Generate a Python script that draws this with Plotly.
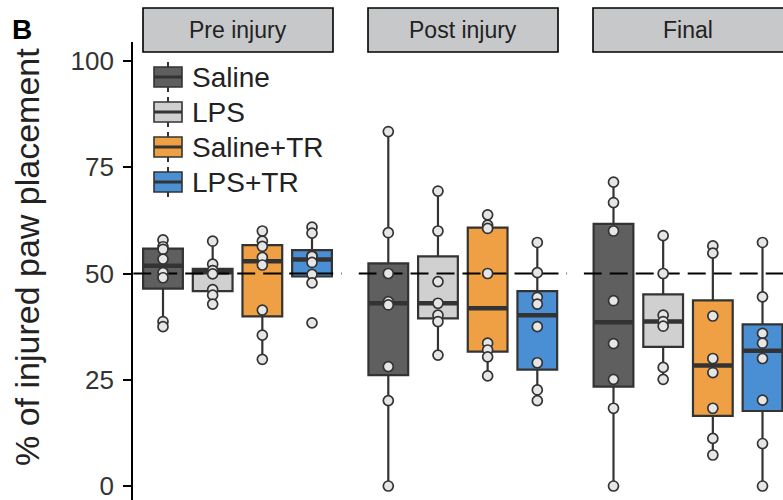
import numpy as np
import plotly.graph_objects as go

# ---- data: % of injured paw placement per mouse ----
phases = ["Pre injury", "Post injury", "Final"]
groups = ["Saline", "LPS", "Saline+TR", "LPS+TR"]

pre_saline = [57.9, 56.3, 55.7, 53.4, 50.2, 49.0, 38.7, 37.5]
pre_lps = [57.6, 52.2, 50.7, 50.7, 49.9, 46.2, 44.9, 42.8]
pre_saline_tr = [60.0, 57.6, 56.4, 53.8, 52.0, 41.4, 35.5, 29.8]
pre_lps_tr = [60.9, 59.5, 54.2, 54.0, 52.6, 49.8, 47.8, 38.4]

post_saline = [83.4, 59.6, 50.0, 43.4, 42.6, 28.1, 20.1, 0.0]
post_lps = [69.4, 60.0, 48.1, 43.0, 40.2, 38.7, 30.8]
post_saline_tr = [63.8, 61.4, 60.6, 50.0, 33.6, 32.0, 30.4, 25.9]
post_lps_tr = [57.3, 50.2, 44.4, 42.8, 37.5, 29.0, 22.6, 20.1]

final_saline = [71.5, 66.7, 60.0, 43.6, 33.5, 25.1, 18.3, 0.0]
final_lps = [58.9, 50.0, 40.2, 38.7, 37.6, 27.9, 25.1]
final_saline_tr = [56.5, 54.8, 40.0, 30.0, 26.7, 18.3, 11.2, 7.3]
final_lps_tr = [57.3, 44.5, 35.9, 33.6, 30.0, 20.2, 10.0, 0.0]

reference_level = 50
y_ticks = [0, 25, 50, 75, 100]

panel_data = [
    [pre_saline, pre_lps, pre_saline_tr, pre_lps_tr],
    [post_saline, post_lps, post_saline_tr, post_lps_tr],
    [final_saline, final_lps, final_saline_tr, final_lps_tr],
]

# ---- styling ----
fill_colors = ["#5f5f5f", "#d0d0d0", "#f0a044", "#4a8fd3"]
edge = "#333333"
point_fill = "#e6e6e6"
FONT = "Liberation Sans, Arial, sans-serif"

W, H = 783, 500
ML, MT = 133, 42
PW, PH = W - ML, H - MT


def px_x(px):
    return (px - ML) / PW


def px_y(py):
    return (H - py) / PH


def box_stats(vals):
    v = np.sort(np.asarray(vals, float))
    q1, med, q3 = np.percentile(v, [25, 50, 75])
    iqr = q3 - q1
    lo = v[v >= q1 - 1.5 * iqr].min()
    hi = v[v <= q3 + 1.5 * iqr].max()
    return q1, med, q3, lo, hi


box_w = 0.8
fig = go.Figure()
axis_ids = ["x", "x2", "x3"]

for p, (ax, series) in enumerate(zip(axis_ids, panel_data)):
    # boxes
    for i, vals in enumerate(series):
        pos = i + 1
        q1, med, q3, lo, hi = box_stats(vals)
        fig.add_trace(go.Box(
            x=[pos], q1=[q1], median=[med], q3=[q3],
            lowerfence=[lo], upperfence=[hi],
            width=box_w, whiskerwidth=0, boxpoints=False,
            fillcolor=fill_colors[i], line=dict(color=edge, width=2.2),
            xaxis=ax, yaxis="y", showlegend=False, hoverinfo="skip",
        ))
        fig.add_trace(go.Scatter(
            x=[pos - box_w / 2, pos + box_w / 2], y=[med, med], mode="lines",
            line=dict(color=edge, width=4.5), xaxis=ax, yaxis="y",
            showlegend=False, hoverinfo="skip",
        ))
    # reference line at 50 %
    fig.add_trace(go.Scatter(
        x=[0.4, len(groups) + 0.6], y=[reference_level] * 2, mode="lines",
        line=dict(color="black", width=2, dash="18px,8px"),
        xaxis=ax, yaxis="y", showlegend=False, hoverinfo="skip",
    ))
    # individual animals
    for i, vals in enumerate(series):
        fig.add_trace(go.Scatter(
            x=[i + 1] * len(vals), y=vals, mode="markers",
            marker=dict(size=10, color=point_fill, line=dict(color=edge, width=1.7)),
            xaxis=ax, yaxis="y", showlegend=False, cliponaxis=False,
        ))

# panel geometry
spacing = 49.67
panel_left = [133.2, 358.5, 583.7]
x_ranges, domains = [], []
for left in panel_left:
    right = left + 4.2 * spacing
    vis_right = min(right, W)
    x_ranges.append([0.4, 0.4 + (vis_right - left) / spacing])
    domains.append([max(px_x(left), 0), min(px_x(vis_right), 1)])

shapes, annotations = [], []

# facet strips
strip_edges = [(143, 333), (368, 558), (593, 790)]
strip_centres = [238, 463, 688]
for (x0, x1), cx, label in zip(strip_edges, strip_centres, phases):
    shapes.append(dict(type="rect", xref="paper", yref="paper",
                       x0=px_x(x0), x1=px_x(x1), y0=px_y(52), y1=px_y(8),
                       fillcolor="#c6c8ca", line=dict(color="black", width=1.6),
                       layer="above"))
    annotations.append(dict(text=label, xref="paper", yref="paper",
                            x=px_x(cx), y=px_y(30), showarrow=False,
                            font=dict(size=23, color="#222222", family=FONT),
                            xanchor="center", yanchor="middle"))

# legend keys drawn in ggplot style
for i, (g, c) in enumerate(zip(groups, fill_colors)):
    cy = 77 + 35 * i
    shapes.append(dict(type="line", xref="paper", yref="paper",
                       x0=px_x(168), x1=px_x(168), y0=px_y(cy - 15), y1=px_y(cy + 15),
                       line=dict(color=edge, width=2), layer="above"))
    shapes.append(dict(type="rect", xref="paper", yref="paper",
                       x0=px_x(154), x1=px_x(182), y0=px_y(cy + 10), y1=px_y(cy - 10),
                       fillcolor=c, line=dict(color=edge, width=1.6), layer="above"))
    shapes.append(dict(type="line", xref="paper", yref="paper",
                       x0=px_x(154), x1=px_x(182), y0=px_y(cy), y1=px_y(cy),
                       line=dict(color=edge, width=3), layer="above"))
    annotations.append(dict(text=g, xref="paper", yref="paper",
                            x=px_x(190), y=px_y(cy), showarrow=False,
                            xanchor="left", yanchor="middle",
                            font=dict(size=28, color="#222222", family=FONT)))

# panel letter and y title
annotations.append(dict(text="<b>B</b>", xref="paper", yref="paper",
                        x=px_x(22), y=px_y(30), showarrow=False,
                        xanchor="center", yanchor="middle",
                        font=dict(size=28, color="black", family=FONT)))
annotations.append(dict(text="% of injured paw placement", xref="paper", yref="paper",
                        x=px_x(27), y=px_y(257), showarrow=False, textangle=-90,
                        xanchor="center", yanchor="middle",
                        font=dict(size=34, color="#222222", family=FONT)))

layout = dict(
    width=W, height=H,
    margin=dict(l=ML, r=0, t=MT, b=0, autoexpand=False),
    paper_bgcolor="white", plot_bgcolor="white",
    boxmode="overlay",
    shapes=shapes, annotations=annotations,
    yaxis=dict(range=[-3.29, 104.47], tickvals=y_ticks, ticks="outside",
               ticklen=8, tickwidth=2, tickcolor="black",
               showline=True, linecolor="black", linewidth=2,
               showgrid=False, zeroline=False, anchor="x",
               tickfont=dict(size=26, color="#333333", family=FONT),
               ticklabelstandoff=4, ticklabeloverflow="allow"),
)
for k, ax in enumerate(["xaxis", "xaxis2", "xaxis3"]):
    layout[ax] = dict(domain=domains[k], range=x_ranges[k], visible=False,
                      showgrid=False, zeroline=False, anchor="y")

fig.update_layout(**layout)
fig.write_html("out.html")
